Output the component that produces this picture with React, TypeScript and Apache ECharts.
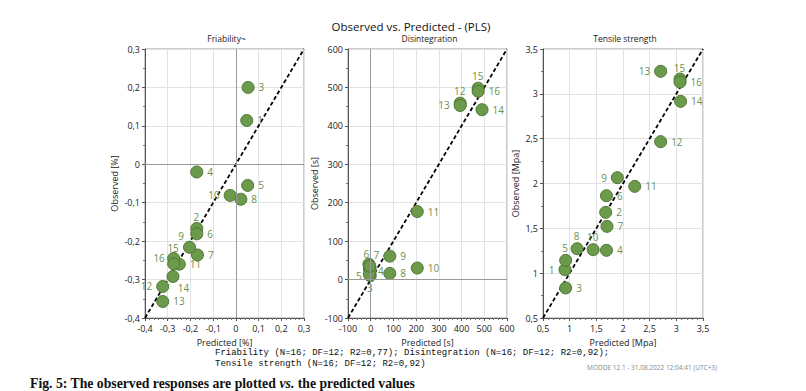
import React, { useEffect, useRef } from "react";
import * as echarts from "echarts";

// ---------- data ----------
const ids = ["1","2","3","4","5","6","7","8","9","10","11","12","13","14","15","16"];

const friabPred = [0.048,-0.172,0.054,-0.172,0.052,-0.172,-0.169,0.022,-0.204,-0.025,-0.249,-0.322,-0.322,-0.277,-0.274,-0.274];
const friabObs  = [0.114,-0.167,0.200,-0.020,-0.055,-0.181,-0.236,-0.091,-0.216,-0.081,-0.260,-0.318,-0.357,-0.292,-0.245,-0.259];

const disPred = [-3,-5,-2,-2,-6,-8,-4,84,84,205,205,394,394,490,473,473];
const disObs  = [30,27,10,22,14,40,35,16,61,30,177,459,453,442,498,490];

const tensPred = [0.912,1.675,0.925,1.69,0.925,1.69,1.70,1.14,1.894,1.44,2.22,2.706,2.706,3.08,3.07,3.07];
const tensObs  = [1.039,1.678,0.835,1.255,1.143,1.864,1.522,1.273,2.065,1.262,1.968,2.467,3.251,2.916,3.165,3.132];

const friabTicks = [-0.4,-0.3,-0.2,-0.1,0,0.1,0.2,0.3];
const disTicks = [-100,0,100,200,300,400,500,600];
const tensTicks = [0.5,1,1.5,2,2.5,3,3.5];

const titleText = "Observed vs. Predicted - (PLS)";
const panelTitles = ["Friability~","Disintegration","Tensile strength"];
const xNames = ["Predicted [%]","Predicted [s]","Predicted [Mpa]"];
const yNames = ["Observed [%]","Observed [s]","Observed [Mpa]"];
const footLine1 = "Friability (N=16; DF=12; R2=0,77); Disintegration (N=16; DF=12; R2=0,92);";
const footLine2 = "Tensile strength (N=16; DF=12; R2=0,92)";
const stamp = "MODDE 12.1 - 31.08.2022 12:04:41 (UTC+3)";
const captionA = "Fig. 5: The observed responses are plotted ";
const captionB = "vs.";
const captionC = " the predicted values";

// ---------- label placement (style): side keyword or [dx, dy] offset from point centre ----------
type LP = string | number[];
const friabLabelPos: LP[] = ["r",[0,-11],"r","r","r","r","r","r",[-8,-11],"l","r","l","r",[11,12],[0,-10],[-14,-5]];
const disLabelPos: LP[]   = ["n","n",[0,13],[11,0],[-10,2],[-2,-10],[7,-11],"r","r","r","r",[0,-12],"l","r",[0,-12],"r"];
const tensLabelPos: LP[]  = ["l","r","r","r",[0,-12],"r","r",[0,-12],"l",[0,-12],"r","r","l","r",[0,-11],"r"];

const GREEN = "#6b9a4a";
const LABEL_GREEN = "#6a9150";
const SYM = 12;

function labelFor(p: LP) {
  const base: any = { show: true, color: LABEL_GREEN, fontSize: 10, fontFamily: "Open Sans, Noto Sans, sans-serif", distance: 4 };
  if (Array.isArray(p)) return { ...base, position: [SYM / 2 + p[0], SYM / 2 + p[1]], align: "center", verticalAlign: "middle" };
  switch (p) {
    case "l": return { ...base, position: "left" };
    case "n": return { ...base, show: false };
    default: return { ...base, position: "right" };
  }
}

function fmt(v: number) {
  const r = Math.round(v * 100) / 100;
  return String(r).replace(".", ",");
}

function App() {
  const ref = useRef<HTMLDivElement>(null);
  useEffect(() => {
    document.body.style.margin = "0";
    const chart = echarts.init(ref.current!, null, { renderer: "svg" });

    const panels = [
      { pred: friabPred, obs: friabObs, ticks: friabTicks, pos: friabLabelPos, zero: true, left: 145, width: 159, nameGap: 26 },
      { pred: disPred, obs: disObs, ticks: disTicks, pos: disLabelPos, zero: true, left: 348, width: 159, nameGap: 29 },
      { pred: tensPred, obs: tensObs, ticks: tensTicks, pos: tensLabelPos, zero: false, left: 543, width: 160, nameGap: 23 },
    ];

    const font = "Open Sans, Noto Sans, sans-serif";
    const grids: any[] = [];
    const xAxes: any[] = [];
    const yAxes: any[] = [];
    const series: any[] = [];
    const graphics: any[] = [];

    panels.forEach((p, i) => {
      const min = p.ticks[0];
      const max = p.ticks[p.ticks.length - 1];
      const interval = p.ticks[1] - p.ticks[0];
      grids.push({ left: p.left, top: 49, width: p.width, height: 269, show: true, borderColor: "#9a9a9a", borderWidth: 1, backgroundColor: "#fff" });
      const common = {
        gridIndex: i, type: "value", min, max, interval,
        axisLine: { show: true, onZero: false, lineStyle: { color: "#555", width: 1 } },
        axisTick: { show: true, length: 3, lineStyle: { color: "#555" } },
        splitLine: { show: true, lineStyle: { color: "#e2e2e2", width: 1 } },
        axisLabel: { color: "#222", fontSize: 9, fontFamily: font, formatter: (v: number) => fmt(v) },
        nameLocation: "middle",
        nameTextStyle: { color: "#222", fontSize: 9, fontFamily: font },
      };
      xAxes.push({ ...common, name: xNames[i], nameGap: 15, axisLabel: { ...common.axisLabel, margin: 6 },
        minorTick: { show: true, splitNumber: 5, length: 2, lineStyle: { color: "#777" } } });
      yAxes.push({ ...common, name: yNames[i], nameGap: p.nameGap, axisLabel: { ...common.axisLabel, margin: 5 },
        minorTick: { show: true, splitNumber: 2, length: 2, lineStyle: { color: "#777" } } });

      const diag: any = {
        type: "line", xAxisIndex: i, yAxisIndex: i, data: [[min, min], [max, max]],
        symbol: "none", silent: true, z: 3,
        lineStyle: { color: "#000", width: 1.8, type: [4, 2.5] },
      };
      if (p.zero) {
        diag.markLine = {
          silent: true, symbol: "none", label: { show: false },
          lineStyle: { color: "#999", width: 1, type: "solid" },
          data: [{ xAxis: 0 }, { yAxis: 0 }],
        };
      }
      series.push(diag);
      series.push({
        type: "scatter", xAxisIndex: i, yAxisIndex: i, z: 4,
        symbolSize: SYM,
        itemStyle: { color: GREEN, borderColor: "#4e7636", borderWidth: 1, opacity: 1 },
        data: p.pred.map((x, k) => ({ value: [x, p.obs[k]], name: ids[k], label: { ...labelFor(p.pos[k]), formatter: ids[k] } })),
      });

      graphics.push({
        type: "text", x: p.left + p.width / 2 + 2, y: 38,
        style: { text: panelTitles[i], fill: "#222", font: `8.5px ${font}`, textAlign: "center", textVerticalAlign: "middle" },
      });
    });

    graphics.push({
      type: "text", x: 411, y: 26,
      style: { text: titleText, fill: "#111", font: `11.5px ${font}`, textAlign: "center", textVerticalAlign: "middle" },
    });
    graphics.push({
      type: "text", x: 215, y: 353,
      style: { text: footLine1, fill: "#111", font: "9px 'Liberation Mono', monospace", textAlign: "left", textVerticalAlign: "middle" },
    });
    graphics.push({
      type: "text", x: 215, y: 364,
      style: { text: footLine2, fill: "#111", font: "9px 'Liberation Mono', monospace", textAlign: "left", textVerticalAlign: "middle" },
    });
    graphics.push({
      type: "text", x: 717, y: 367,
      style: { text: stamp, fill: "#888", font: `6.5px ${font}`, textAlign: "right", textVerticalAlign: "middle" },
    });
    graphics.push({
      type: "text", x: 30, y: 383, scaleX: 0.98,
      style: {
        text: `{a|${captionA}}{b|${captionB}}{a|${captionC}}`,
        textAlign: "left", textVerticalAlign: "middle",
        rich: {
          a: { fill: "#111", fontWeight: "bold", fontSize: 14, fontFamily: "'Liberation Serif', serif" },
          b: { fill: "#111", fontWeight: "bold", fontStyle: "italic", fontSize: 14, fontFamily: "'Liberation Serif', serif" },
        },
      },
    });

    chart.setOption({
      animation: false,
      backgroundColor: "#fff",
      grid: grids,
      xAxis: xAxes,
      yAxis: yAxes,
      series,
      graphic: graphics,
    });
    return () => chart.dispose();
  }, []);
  return <div ref={ref} style={{ width: 806, height: 391 }} />;
}

export default App;
